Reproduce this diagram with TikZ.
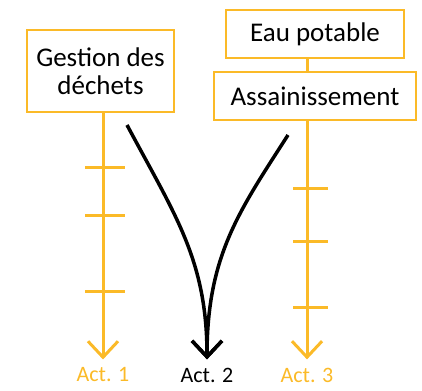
\documentclass[tikz,border=0pt]{standalone}
\usepackage{fontspec}
\setmainfont{Carlito}
\usetikzlibrary{arrows.meta}
\definecolor{marigold}{RGB}{251,186,40}
\tikzset{
	panel/.style    = {draw = marigold, line width = 2.5pt, fill = white,
		inner sep = 0pt, align = center, font = \fontsize{27}{28}\selectfont},
	acttext/.style  = {inner sep = 0pt, font = \fontsize{22}{24}\selectfont},
	track/.style    = {draw = marigold, line width = 3pt},
	flow/.style     = {draw = black, line width = 3.5pt}
}

\begin{document}
\begin{tikzpicture}[auto, thick, x=1pt, y=-1pt,
		>={Straight Barb[length=16pt, width=30pt]}]
		\useasboundingbox (0,0) rectangle (422,390);
		\draw
		node at (100.5,71) [panel, minimum width = 147pt, minimum height = 82pt] (gd) {Gestion des\\déchets}
		node at (315,34) [panel, minimum width = 178pt, minimum height = 48pt] (ep) {Eau potable}
		node at (315,96) [panel, minimum width = 202pt, minimum height = 48pt] (as) {Assainissement}
		node at (103,375) [acttext, text = marigold] (act1) {Act. 1}
		node at (207,375) [acttext] (act2) {Act. 2}
		node at (307,375) [acttext, text = marigold] (act3) {Act. 3};
		
		\coordinate (wl) at (127,125);
		\coordinate (wr) at (288,135);
		
		\draw[track, ->, shorten >= 8pt](act1 |- gd.south)--(act1.north);
		\draw[track](ep.south -| act3)--(as.north -| act3);
		\draw[track, ->, shorten >= 8pt](act3 |- as.south)--(act3.north);
		\foreach \y in {167,215,291}
			\draw[track](85,\y)--(125,\y);
		\foreach \y in {188,241,307}
			\draw[track](293,\y)--(328,\y);
		
		\draw[flow, ->, shorten >= 8pt](wl) .. controls (175,215) and (207,260) .. (act2.north);
		\draw[flow, ->, shorten >= 8pt](wr) .. controls (240,210) and (207,255) .. (act2.north);
		
	\end{tikzpicture}
\end{document}
